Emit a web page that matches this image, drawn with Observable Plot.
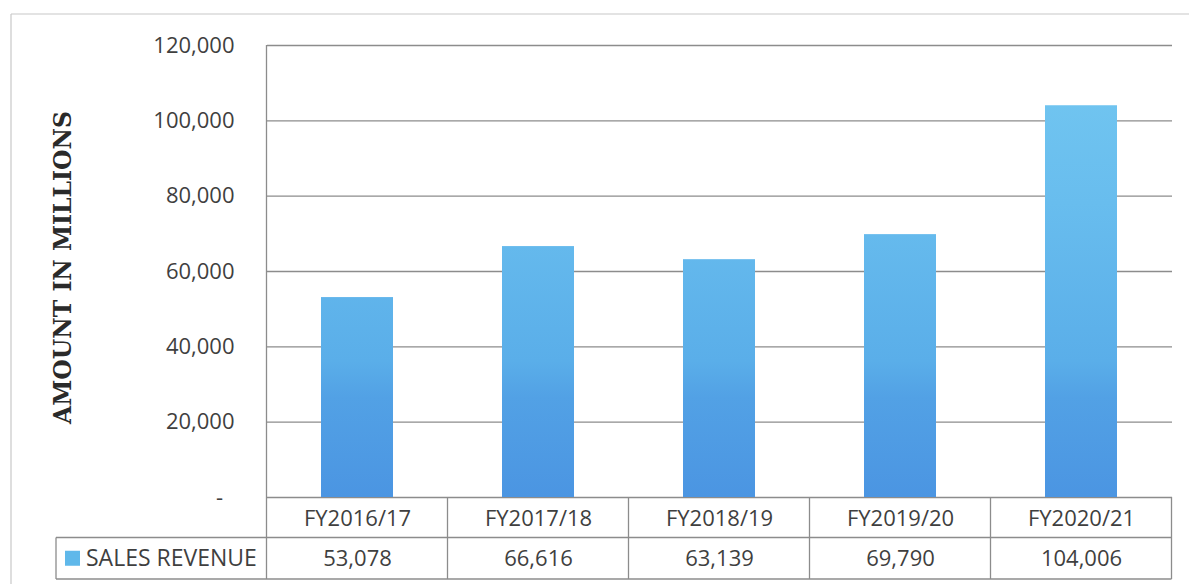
<!DOCTYPE html>
<html><head><meta charset="utf-8">
<script src="https://cdn.jsdelivr.net/npm/d3@7"></script>
<script src="https://cdn.jsdelivr.net/npm/@observablehq/plot@0.6"></script>
<style>html,body{margin:0;padding:0;background:#fff}svg{display:block}</style>
</head><body><div id="chart"></div>
<script>
const categories = ["FY2016/17", "FY2017/18", "FY2018/19", "FY2019/20", "FY2020/21"];
const salesRevenue = [53078, 66616, 63139, 69790, 104006];
const yTicks = [0, 20000, 40000, 60000, 80000, 100000, 120000];
const seriesName = "SALES REVENUE";
const yTitle = "AMOUNT IN MILLIONS";

const data = categories.map((c, i) => ({category: c, value: salesRevenue[i]}));
const fmt = d3.format(",");
const textColor = "#3f3f3f";
const lineColor = "#8c8c8c";

const W = 1189, H = 584;
const M = {left: 267, right: 17, top: 45, bottom: 87};

const plot = Plot.plot({
  width: W, height: H,
  marginLeft: M.left, marginRight: M.right, marginTop: M.top, marginBottom: M.bottom,
  style: {fontFamily: "'Open Sans', sans-serif", fontSize: "22px", color: textColor, background: "#fff", overflow: "visible"},
  x: {domain: categories, paddingInner: 0.6, paddingOuter: 0.3, axis: null},
  y: {domain: [0, 120000], axis: null},
  marks: [
    Plot.gridY(yTicks, {stroke: lineColor, strokeOpacity: 1, strokeWidth: 1.3}),
    Plot.axisY(yTicks, {tickSize: 0, tickPadding: 33, label: null, fontSize: 22, fill: textColor,
      tickFormat: d => d === 0 ? "-\u00a0\u00a0" : fmt(d)}),
    Plot.barY(data, {x: "category", y: "value", fill: "url(#barGrad)"}),
    Plot.text(data, {x: "category", text: "category", frameAnchor: "bottom", lineAnchor: "middle", dy: 21, fill: textColor, fontSize: 22}),
    Plot.text(data, {x: "category", text: d => fmt(d.value), frameAnchor: "bottom", lineAnchor: "middle", dy: 61, fill: textColor, fontSize: 22}),
    Plot.text([yTitle], {text: d => d, frameAnchor: "left", textAnchor: "middle", lineAnchor: "middle", dx: -204, dy: -4, rotate: -90,
      fontFamily: "'DejaVu Serif', serif", fontWeight: "bold", fontSize: 23.5, fill: "#2a2a2a"})
  ]
});

document.getElementById("chart").appendChild(plot);
const svg = d3.select(plot);

// gradient for bars
const defs = svg.insert("defs", ":first-child");
const grad = defs.append("linearGradient").attr("id", "barGrad")
  .attr("gradientUnits", "userSpaceOnUse").attr("x1", 0).attr("x2", 0)
  .attr("y1", M.top).attr("y2", H - M.bottom);
[[0, "#74c8f1"], [0.35, "#68bdee"], [0.7, "#5aaee9"], [0.78, "#52a1e5"], [1, "#4b95e2"]]
  .forEach(([o, c]) => grad.append("stop").attr("offset", o).attr("stop-color", c));

// table lines from the x band scale
const xs = plot.scale("x");
const ys = plot.scale("y");
const step = xs.step;
const x0 = xs.apply(categories[0]) - (step - xs.bandwidth) / 2;
const xEnd = x0 + step * categories.length;
const yZero = ys.apply(0);
const rowH = 40.5;
const yRow = yZero + rowH, yBot = yZero + 2 * rowH + 1;
const legendLeft = 56;
const g = svg.append("g").attr("stroke", lineColor).attr("stroke-width", 1.3).attr("fill", "none");
g.append("line").attr("x1", x0).attr("x2", x0).attr("y1", ys.apply(120000)).attr("y2", yBot);
for (let i = 1; i <= categories.length; i++) {
  const x = x0 + step * i;
  g.append("line").attr("x1", x).attr("x2", x).attr("y1", yZero).attr("y2", yBot);
}
g.append("line").attr("x1", legendLeft).attr("x2", xEnd).attr("y1", yRow).attr("y2", yRow);
g.append("line").attr("x1", legendLeft).attr("x2", xEnd).attr("y1", yBot).attr("y2", yBot);
g.append("line").attr("x1", legendLeft).attr("x2", legendLeft).attr("y1", yRow).attr("y2", yBot);
// outer chart frame (top and left visible)
const f = svg.append("g").attr("stroke", "#c8c8c8").attr("stroke-width", 1.2).attr("fill", "none");
f.append("line").attr("x1", 11).attr("x2", W).attr("y1", 14).attr("y2", 14);
f.append("line").attr("x1", 11).attr("x2", 11).attr("y1", 14).attr("y2", H);

// legend key in table
const ly = (yRow + yBot) / 2;
svg.append("rect").attr("x", 65).attr("y", ly - 7.5).attr("width", 15).attr("height", 15).attr("fill", "#5fb8ea");
svg.append("text").attr("x", 86).attr("y", ly).attr("dy", "0.35em").attr("text-anchor", "start")
  .attr("font-family", "'Open Sans', sans-serif").attr("font-size", 23).attr("fill", textColor)
  .text(seriesName);
</script>
</body></html>
